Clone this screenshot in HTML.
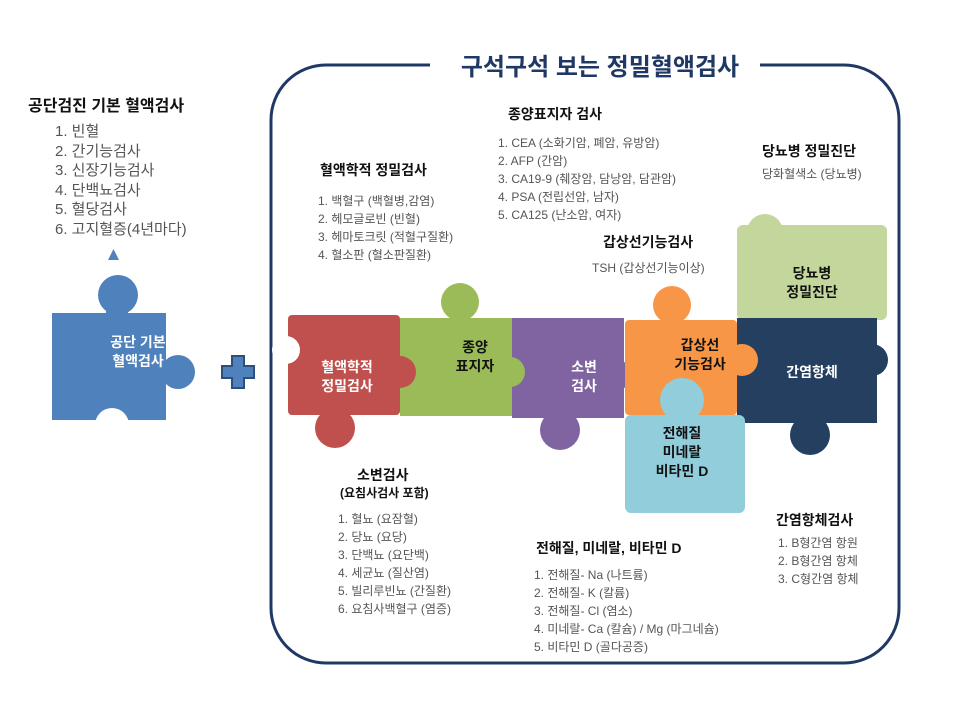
<!DOCTYPE html>
<html><head><meta charset="utf-8">
<style>
body{margin:0;width:960px;height:720px;background:#fff;overflow:hidden;position:relative;font-family:"Liberation Sans","Noto Sans CJK KR",sans-serif;}
.t{position:absolute;white-space:nowrap;}
.h{font-weight:bold;color:#111;font-size:14px;}
.l{color:#555;font-size:12px;line-height:18px;}
</style></head><body>
<svg width="960" height="720" style="position:absolute;left:0;top:0">
<rect x="271" y="65" width="628" height="598" rx="55" fill="none" stroke="#1f3864" stroke-width="3"/>
<rect x="430" y="50" width="330" height="30" fill="#fff"/>
<text x="600" y="75" text-anchor="middle" font-family="Liberation Sans,Noto Sans CJK KR,sans-serif" font-weight="bold" font-size="24" fill="#1f3864">구석구석 보는 정밀혈액검사</text>
<polygon points="108,260 119,260 113.5,249" fill="#4f81bd"/>
<!-- blue left piece -->
<g fill="#4f81bd">
<rect x="52" y="313" width="114" height="107"/>
<circle cx="118" cy="295" r="20"/><rect x="106" y="300" width="22" height="20"/>
<circle cx="178" cy="372" r="17"/><rect x="160" y="362" width="10" height="20"/>
</g>
<circle cx="112" cy="425" r="17" fill="#fff"/>
<!-- plus -->
<path d="M232 356h12v10h10v12h-10v10h-12v-10h-10v-12h10z" fill="#4f81bd" stroke="#2c4f7c" stroke-width="2"/>
<!-- light green -->
<g fill="#c3d69b">
<rect x="737" y="225" width="150" height="95" rx="6"/>
<circle cx="765" cy="232" r="18"/>
<circle cx="785" cy="330" r="20"/>
</g>
<!-- navy -->
<g fill="#243f60">
<rect x="737" y="318" width="140" height="105"/>
<circle cx="872" cy="360" r="16"/>
<circle cx="810" cy="435" r="20"/>
</g>
<!-- red -->
<g fill="#c0504d">
<rect x="288" y="315" width="112" height="100" rx="4"/>
<circle cx="335" cy="428" r="20"/>
</g>
<circle cx="286" cy="350" r="14" fill="#fff"/>
<!-- green -->
<g fill="#9bbb59">
<rect x="400" y="318" width="112" height="98"/>
<circle cx="460" cy="302" r="19"/>
<circle cx="510" cy="372" r="17"/>
</g>
<circle cx="400" cy="372" r="16" fill="#c0504d"/>
<!-- purple -->
<g fill="#8064a2">
<rect x="512" y="318" width="112" height="100"/>
<circle cx="560" cy="430" r="20"/>
<circle cx="630" cy="375" r="14"/>
</g>
<circle cx="510" cy="372" r="15" fill="#9bbb59"/>
<!-- orange -->
<g fill="#f79646">
<rect x="625" y="320" width="112" height="95" rx="4"/>
<circle cx="672" cy="305" r="19"/>
<circle cx="742" cy="360" r="16"/>
</g>
<!-- light blue -->
<g fill="#92cddc">
<rect x="625" y="415" width="120" height="98" rx="6"/>
<circle cx="682" cy="400" r="22"/>
</g>
<g font-family="Liberation Sans,Noto Sans CJK KR,sans-serif" font-weight="bold" font-size="14" text-anchor="middle">
<text x="138" y="347" fill="#fff">공단 기본</text><text x="138" y="366" fill="#fff">혈액검사</text>
<text x="347" y="372" fill="#fff">혈액학적</text><text x="347" y="391" fill="#fff">정밀검사</text>
<text x="475" y="352" fill="#111">종양</text><text x="475" y="371" fill="#111">표지자</text>
<text x="584" y="372" fill="#fff">소변</text><text x="584" y="391" fill="#fff">검사</text>
<text x="700" y="350" fill="#111">갑상선</text><text x="700" y="369" fill="#111">기능검사</text>
<text x="812" y="377" fill="#fff">간염항체</text>
<text x="812" y="278" fill="#111">당뇨병</text><text x="812" y="297" fill="#111">정밀진단</text>
<text x="682" y="438" fill="#111">전해질</text><text x="682" y="457" fill="#111">미네랄</text><text x="682" y="476" fill="#111">비타민 D</text>
</g>
</svg>
<div class="t h" style="left:28px;top:92px;font-size:16px">공단검진 기본 혈액검사</div>
<div class="t" style="left:55px;top:122px;color:#555;font-size:15px;line-height:19.5px">1. 빈혈<br>2. 간기능검사<br>3. 신장기능검사<br>4. 단백뇨검사<br>5. 혈당검사<br>6. 고지혈증(4년마다)</div>

<div class="t h" style="left:320px;top:160px">혈액학적 정밀검사</div>
<div class="t l" style="left:318px;top:192px">1. 백혈구 (백혈병,감염)<br>2. 헤모글로빈 (빈혈)<br>3. 헤마토크릿 (적혈구질환)<br>4. 혈소판 (혈소판질환)</div>

<div class="t h" style="left:508px;top:104px">종양표지자 검사</div>
<div class="t l" style="left:498px;top:134px">1. CEA (소화기암, 폐암, 유방암)<br>2. AFP (간암)<br>3. CA19-9 (췌장암, 담낭암, 담관암)<br>4. PSA (전립선암, 남자)<br>5. CA125 (난소암, 여자)</div>

<div class="t h" style="left:603px;top:232px">갑상선기능검사</div>
<div class="t l" style="left:592px;top:259px">TSH (갑상선기능이상)</div>

<div class="t h" style="left:762px;top:141px">당뇨병 정밀진단</div>
<div class="t l" style="left:762px;top:165px">당화혈색소 (당뇨병)</div>

<div class="t h" style="left:357px;top:465px">소변검사</div>
<div class="t" style="left:340px;top:484px;font-size:12px;font-weight:bold;color:#111">(요침사검사 포함)</div>
<div class="t l" style="left:338px;top:510px">1. 혈뇨 (요잠혈)<br>2. 당뇨 (요당)<br>3. 단백뇨 (요단백)<br>4. 세균뇨 (질산염)<br>5. 빌리루빈뇨 (간질환)<br>6. 요침사백혈구 (염증)</div>

<div class="t h" style="left:536px;top:538px">전해질, 미네랄, 비타민 D</div>
<div class="t l" style="left:534px;top:566px">1. 전해질- Na (나트륨)<br>2. 전해질- K (칼륨)<br>3. 전해질- Cl (염소)<br>4. 미네랄- Ca (칼슘) / Mg (마그네슘)<br>5. 비타민 D (골다공증)</div>

<div class="t h" style="left:776px;top:510px">간염항체검사</div>
<div class="t l" style="left:778px;top:534px">1. B형간염 항원<br>2. B형간염 항체<br>3. C형간염 항체</div>
</body></html>
